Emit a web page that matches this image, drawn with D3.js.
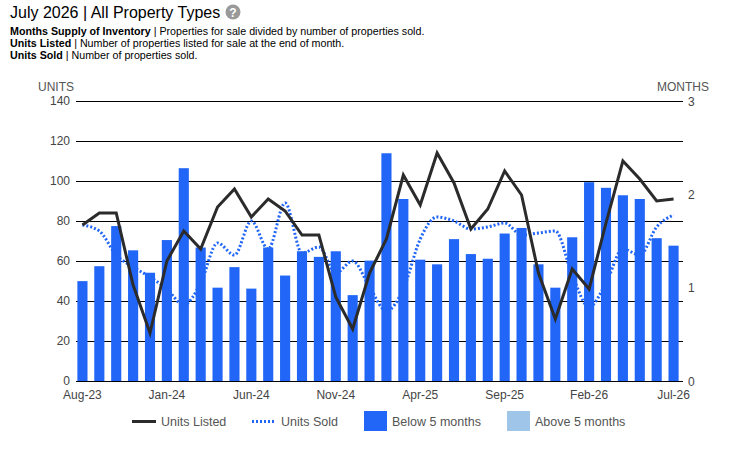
<!DOCTYPE html>
<html>
<head>
<meta charset="utf-8">
<script src="https://cdn.jsdelivr.net/npm/d3@7"></script>
<style>
  body { margin: 0; background: #fff; font-family: "Liberation Sans", Arial, sans-serif; }
  #chart { width: 750px; height: 458px; }
</style>
</head>
<body>
<div id="chart"></div>
<script>
var months = ["Aug-23","Sep-23","Oct-23","Nov-23","Dec-23","Jan-24","Feb-24","Mar-24","Apr-24","May-24","Jun-24","Jul-24",
              "Aug-24","Sep-24","Oct-24","Nov-24","Dec-24","Jan-25","Feb-25","Mar-25","Apr-25","May-25","Jun-25","Jul-25",
              "Aug-25","Sep-25","Oct-25","Nov-25","Dec-25","Jan-26","Feb-26","Mar-26","Apr-26","May-26","Jun-26","Jul-26"];
// months supply of inventory (bars, right axis)
var supply = [1.07,1.23,1.66,1.40,1.16,1.51,2.28,1.43,1.00,1.22,0.99,1.43,
              1.13,1.39,1.33,1.39,0.92,1.29,2.44,1.95,1.30,1.25,1.52,1.36,
              1.31,1.58,1.64,1.25,1.00,1.54,2.13,2.07,1.99,1.95,1.53,1.45];
// units listed (solid line, left axis)
var listed = [78,84,84,48,24,60,75,66,87,96,82,91,
              85,73,73,42,26,54,71,103,88,114,99,76,
              86,105,93,54,31,56,46,79,110,101,90,91];
// units sold (dotted line, left axis)
var sold = [78,75,63,57,52,46,38,49,69,63,80,66,
            89,64,67,54,60,47,35,46,71,82,80,76,
            77,79,73,74,75,53,37,49,66,63,77,83];
var unitTicks = [0,20,40,60,80,100,120,140];
var monthTicks = [0,1,2,3];

var svg = d3.select("#chart").append("svg")
    .attr("width", 750).attr("height", 458);

// header
var head = svg.append("g");
head.append("text").attr("x", 10).attr("y", 18)
    .style("font-size", "16px").attr("fill", "#000")
    .text("July 2026 | All Property Types");
head.append("circle").attr("cx", 233).attr("cy", 12).attr("r", 7.5).attr("fill", "#999");
head.append("text").attr("x", 233).attr("y", 16.5).attr("text-anchor", "middle")
    .style("font-size", "12px").style("font-weight", "bold").attr("fill", "#fff").text("?");

var notes = [["Months Supply of Inventory", "Properties for sale divided by number of properties sold."],
             ["Units Listed", "Number of properties listed for sale at the end of month."],
             ["Units Sold", "Number of properties sold."]];
notes.forEach(function(n, i){
    var t = head.append("text").attr("x", 10).attr("y", 35 + i * 12)
        .style("font-size", "10.7px").attr("fill", "#000");
    t.append("tspan").style("font-weight", "bold").text(n[0]);
    t.append("tspan").text(" | " + n[1]);
});

// scales
var x = d3.scaleBand().domain(months).range([74, 682]).paddingInner(0.4).paddingOuter(0.2);
var yL = d3.scaleLinear().domain([0, 140]).range([381, 101]);
var yR = d3.scaleLinear().domain([0, 3]).range([381, 101]);

// gridlines
svg.append("g").selectAll("line").data(unitTicks).enter().append("line")
    .attr("x1", 76).attr("x2", 683)
    .attr("y1", function(d){ return yL(d) + 0.5; }).attr("y2", function(d){ return yL(d) + 0.5; })
    .attr("stroke", "#000").attr("stroke-width", 1);

// axes
var leftAxis = svg.append("g").attr("transform", "translate(70,0)")
    .call(d3.axisLeft(yL).tickValues(unitTicks).tickSize(0).tickPadding(0));
var rightAxis = svg.append("g").attr("transform", "translate(688,0)")
    .call(d3.axisRight(yR).tickValues(monthTicks).tickFormat(d3.format("d")).tickSize(0).tickPadding(0));
var bottomAxis = svg.append("g").attr("transform", "translate(0,385)")
    .call(d3.axisBottom(x).tickValues(months.filter(function(d, i){ return i % 5 === 0; })).tickSize(0).tickPadding(5));
[leftAxis, rightAxis, bottomAxis].forEach(function(a){
    a.select(".domain").remove();
    a.selectAll("text").style("font-size", "12px").attr("fill", "#444")
        .style("font-family", "'Liberation Sans', Arial, sans-serif");
});
leftAxis.selectAll("text").attr("dy", "0.3em");
rightAxis.selectAll("text").attr("dy", "0.35em");

svg.append("text").attr("x", 38).attr("y", 91).style("font-size", "12px").attr("fill", "#555").text("UNITS");
svg.append("text").attr("x", 657).attr("y", 91).style("font-size", "12px").attr("fill", "#555").text("MONTHS");

// bars
svg.append("g").selectAll("rect").data(supply).enter().append("rect")
    .attr("x", function(d, i){ return x(months[i]); })
    .attr("width", x.bandwidth())
    .attr("y", function(d){ return yR(d); })
    .attr("height", function(d){ return yR(0) - yR(d); })
    .attr("fill", function(d){ return d < 5 ? "#2166f6" : "#9fc5e8"; });

var cx = function(i){ return x(months[i]) + x.bandwidth() / 2; };

var soldLine = d3.line().x(function(d, i){ return cx(i); }).y(function(d){ return yL(d); })
    .curve(d3.curveMonotoneX);
svg.append("path").datum(sold).attr("d", soldLine)
    .attr("fill", "none").attr("stroke", "#2166f6").attr("stroke-width", 3)
    .attr("stroke-dasharray", "2,2");

var listedLine = d3.line().x(function(d, i){ return cx(i); }).y(function(d){ return yL(d); });
svg.append("path").datum(listed).attr("d", listedLine)
    .attr("fill", "none").attr("stroke", "#2b2b2b").attr("stroke-width", 3)
    .attr("stroke-linejoin", "miter");

// legend
var lg = svg.append("g").style("font-size", "12.5px");
lg.append("line").attr("x1", 132).attr("x2", 156).attr("y1", 421.5).attr("y2", 421.5)
    .attr("stroke", "#2b2b2b").attr("stroke-width", 3);
lg.append("text").attr("x", 161).attr("y", 426).attr("fill", "#555").text("Units Listed");
lg.append("line").attr("x1", 252).attr("x2", 276).attr("y1", 421.5).attr("y2", 421.5)
    .attr("stroke", "#2166f6").attr("stroke-width", 3).attr("stroke-dasharray", "2,2");
lg.append("text").attr("x", 281).attr("y", 426).attr("fill", "#555").text("Units Sold");
lg.append("rect").attr("x", 364).attr("y", 411).attr("width", 23).attr("height", 20).attr("fill", "#2166f6");
lg.append("text").attr("x", 392).attr("y", 426).attr("fill", "#555").text("Below 5 months");
lg.append("rect").attr("x", 507).attr("y", 411).attr("width", 23).attr("height", 20).attr("fill", "#9fc5e8");
lg.append("text").attr("x", 535).attr("y", 426).attr("fill", "#555").text("Above 5 months");
</script>
</body>
</html>
